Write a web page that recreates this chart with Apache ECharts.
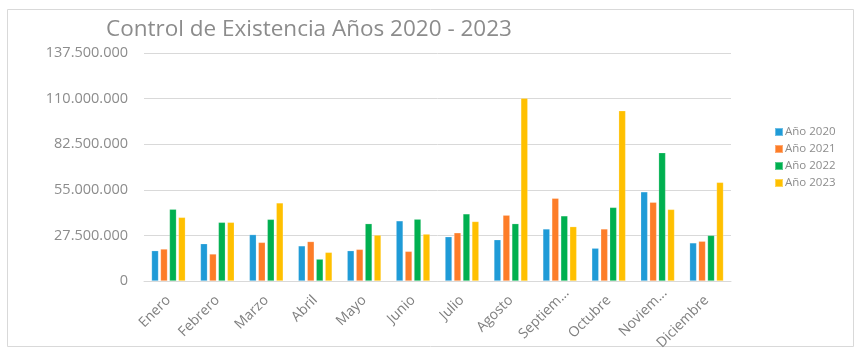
<!DOCTYPE html>
<html>
<head>
<meta charset="utf-8">
<script src="https://cdn.jsdelivr.net/npm/echarts@6/dist/echarts.min.js"></script>
<style>
  html, body { margin: 0; padding: 0; background: #ffffff; }
  #chart { width: 862px; height: 354px; }
</style>
</head>
<body>
<div id="chart"></div>
<script>
// Existencias mensuales por año
const months = ['Enero', 'Febrero', 'Marzo', 'Abril', 'Mayo', 'Junio', 'Julio', 'Agosto', 'Septiem...', 'Octubre', 'Noviem...', 'Diciembre'];
const seriesNames = ['Año 2020', 'Año 2021', 'Año 2022', 'Año 2023'];
const year2020 = [18300000, 22500000, 28000000, 21200000, 18300000, 36300000, 26700000, 24900000, 31400000, 19800000, 53800000, 23000000];
const year2021 = [19300000, 16300000, 23300000, 23800000, 19100000, 17900000, 29100000, 39700000, 49900000, 31400000, 47500000, 24000000];
const year2022 = [43300000, 35400000, 37200000, 13200000, 34600000, 37300000, 40500000, 34600000, 39300000, 44400000, 77400000, 27500000];
const year2023 = [38400000, 35400000, 47100000, 17300000, 27700000, 28300000, 35900000, 110300000, 32800000, 102700000, 43200000, 59500000];
const yTicks = { min: 0, max: 137500000, interval: 27500000 };
const palette = ['#1f9bd7', '#fd7d28', '#00b050', '#ffc000'];

function withDots(v) {
  return String(Math.round(v)).replace(/\B(?=(\d{3})+(?!\d))/g, '.');
}

// shortened month names sit a little further along their slant
const monthItems = months.map(m => m.endsWith('...')
  ? { value: m, textStyle: { padding: [0, -10, 0, 0] } }
  : m);

const values = [year2020, year2021, year2022, year2023];
const chart = echarts.init(document.getElementById('chart'), null, { renderer: 'canvas' });

chart.setOption({
  animation: false,
  color: palette,
  textStyle: { fontFamily: 'Open Sans, Noto Sans, sans-serif' },
  graphic: [{
    type: 'rect',
    shape: { x: 7.5, y: 9.5, width: 846, height: 337 },
    style: { fill: 'none', stroke: '#d9d9d9', lineWidth: 1 },
    silent: true
  }],
  title: {
    text: 'Control de Existencia Años 2020 - 2023',
    left: 101,
    top: 13,
    textStyle: { fontSize: 22.5, fontWeight: 'normal', color: '#8c8c8c', fontFamily: 'Open Sans, sans-serif' }
  },
  legend: {
    orient: 'vertical',
    left: 769,
    top: 121,
    itemWidth: 8,
    itemHeight: 8,
    itemGap: 5,
    icon: 'rect',
    textStyle: { fontSize: 11.5, color: '#8c8c8c', padding: [0, 0, 0, -3] },
    data: seriesNames
  },
  grid: { left: 144, right: 131, top: 53, bottom: 73, containLabel: false },
  xAxis: {
    type: 'category',
    data: monthItems,
    axisLine: { lineStyle: { color: '#d9d9d9', width: 1 } },
    axisTick: { show: false },
    axisLabel: { rotate: 45, color: '#7f7f7f', fontSize: 14, margin: 17, interval: 0 }
  },
  yAxis: {
    type: 'value',
    min: yTicks.min,
    max: yTicks.max,
    interval: yTicks.interval,
    axisLine: { show: false },
    axisTick: { show: false },
    splitLine: { lineStyle: { color: '#d9d9d9', width: 1 } },
    axisLabel: { color: '#8c8c8c', fontSize: 14.5, margin: 16, formatter: withDots }
  },
  series: seriesNames.map((name, i) => ({
    name: name,
    type: 'bar',
    data: values[i],
    barWidth: 7,
    barGap: '28%',
    itemStyle: { borderColor: 'rgba(255,255,255,0.35)', borderWidth: 0.6 }
  }))
});
</script>
</body>
</html>
